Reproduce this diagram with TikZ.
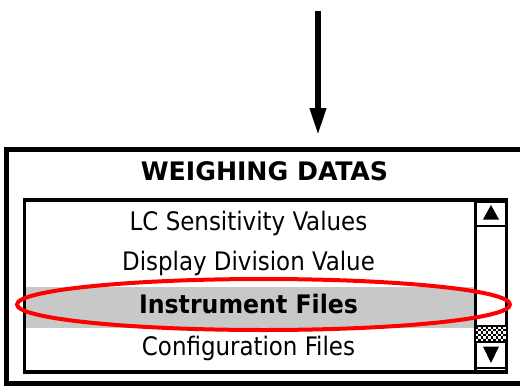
\documentclass[tikz,border=0pt]{standalone}
\usepackage{fontspec}
\setmainfont{DejaVu Sans Condensed}
\usetikzlibrary{arrows.meta,shapes.geometric}

\definecolor{selgray}{RGB}{200,200,200}

\tikzset{
  frame/.style={draw=black, rectangle, inner sep=0pt, outer sep=0pt},
  itemtext/.style={font=\fontsize{25.5}{30}\selectfont, anchor=base, inner sep=0pt},
  boldtext/.style={itemtext, font=\fontsize{25.5}{30}\selectfont\bfseries},
  scrollbtn/.style={frame, line width=2.5pt, fill=white, minimum width=31pt},
}

\begin{document}
\begin{tikzpicture}[x=1pt, y=-1pt]
\useasboundingbox (0,0) rectangle (520,386);

% outer panel
\node[frame, line width=5pt, minimum width=515.5pt, minimum height=234pt]
  (panel) at (264.25,266.5) {};

% list box
\node[frame, line width=3.5pt, minimum width=482pt, minimum height=172pt]
  (list) at (265.5,286) {};

% highlighted row
\fill[selgray] (26,287) rectangle (474,328);

% title and entries
\node[boldtext] (title) at (264.5,180) {\scalebox{1.1}[1]{WEIGHING DATAS}};
\node[itemtext] (item1) at (248.5,230) {LC Sensitivity Values};
\node[itemtext] (item2) at (248.5,270.5) {Display Division Value};
\node[boldtext] (item3) at (248.5,313) {\scalebox{1.03}[1]{Instrument Files}};
\node[itemtext] (item4) at (248.5,355) {Configuration Files};

% scroll bar
\draw[line width=2.5pt] (475.5,200) -- (475.5,372);
\node[scrollbtn, minimum height=24pt] (up) at (491,214) {};
\node[frame, line width=1pt, fill=white, minimum width=31pt, minimum height=17pt]
  (thumb) at (491,334.5) {};
\begin{scope}
  \clip (thumb.south west) rectangle (thumb.north east);
  \foreach \i in {0,...,12} {
    \foreach \j in {0,...,6} {
      \pgfmathparse{int(mod(\i+\j,2))}
      \ifnum\pgfmathresult=0
        \fill ([shift={(2.5*\i,2.5*\j)}]thumb.north west) rectangle +(2.5,2.5);
      \fi
    }
  }
\end{scope}
\draw[line width=1.5pt] (thumb.south west) rectangle (thumb.north east);
\node[scrollbtn, minimum height=26pt] (down) at (491,355) {};
\fill ([shift={(-8,5.5)}]up.center) -- ([shift={(8,5.5)}]up.center)
  -- ([shift={(0,-9)}]up.center) -- cycle;
\fill ([shift={(-8,-8.5)}]down.center) -- ([shift={(8,-8.5)}]down.center)
  -- ([shift={(0,8)}]down.center) -- cycle;

% selection ring
\node[draw=red, ellipse, line width=4pt, inner sep=0pt,
  minimum width=493pt, minimum height=51pt] (ring) at (263.5,304.5) {};

% incoming arrow
\coordinate (src) at (318,11);
\draw[line width=5.5pt, -{Triangle[length=27pt, width=15.5pt]}, shorten >=14.5pt]
  (src) -- (src |- panel.north);
\end{tikzpicture}
\end{document}
